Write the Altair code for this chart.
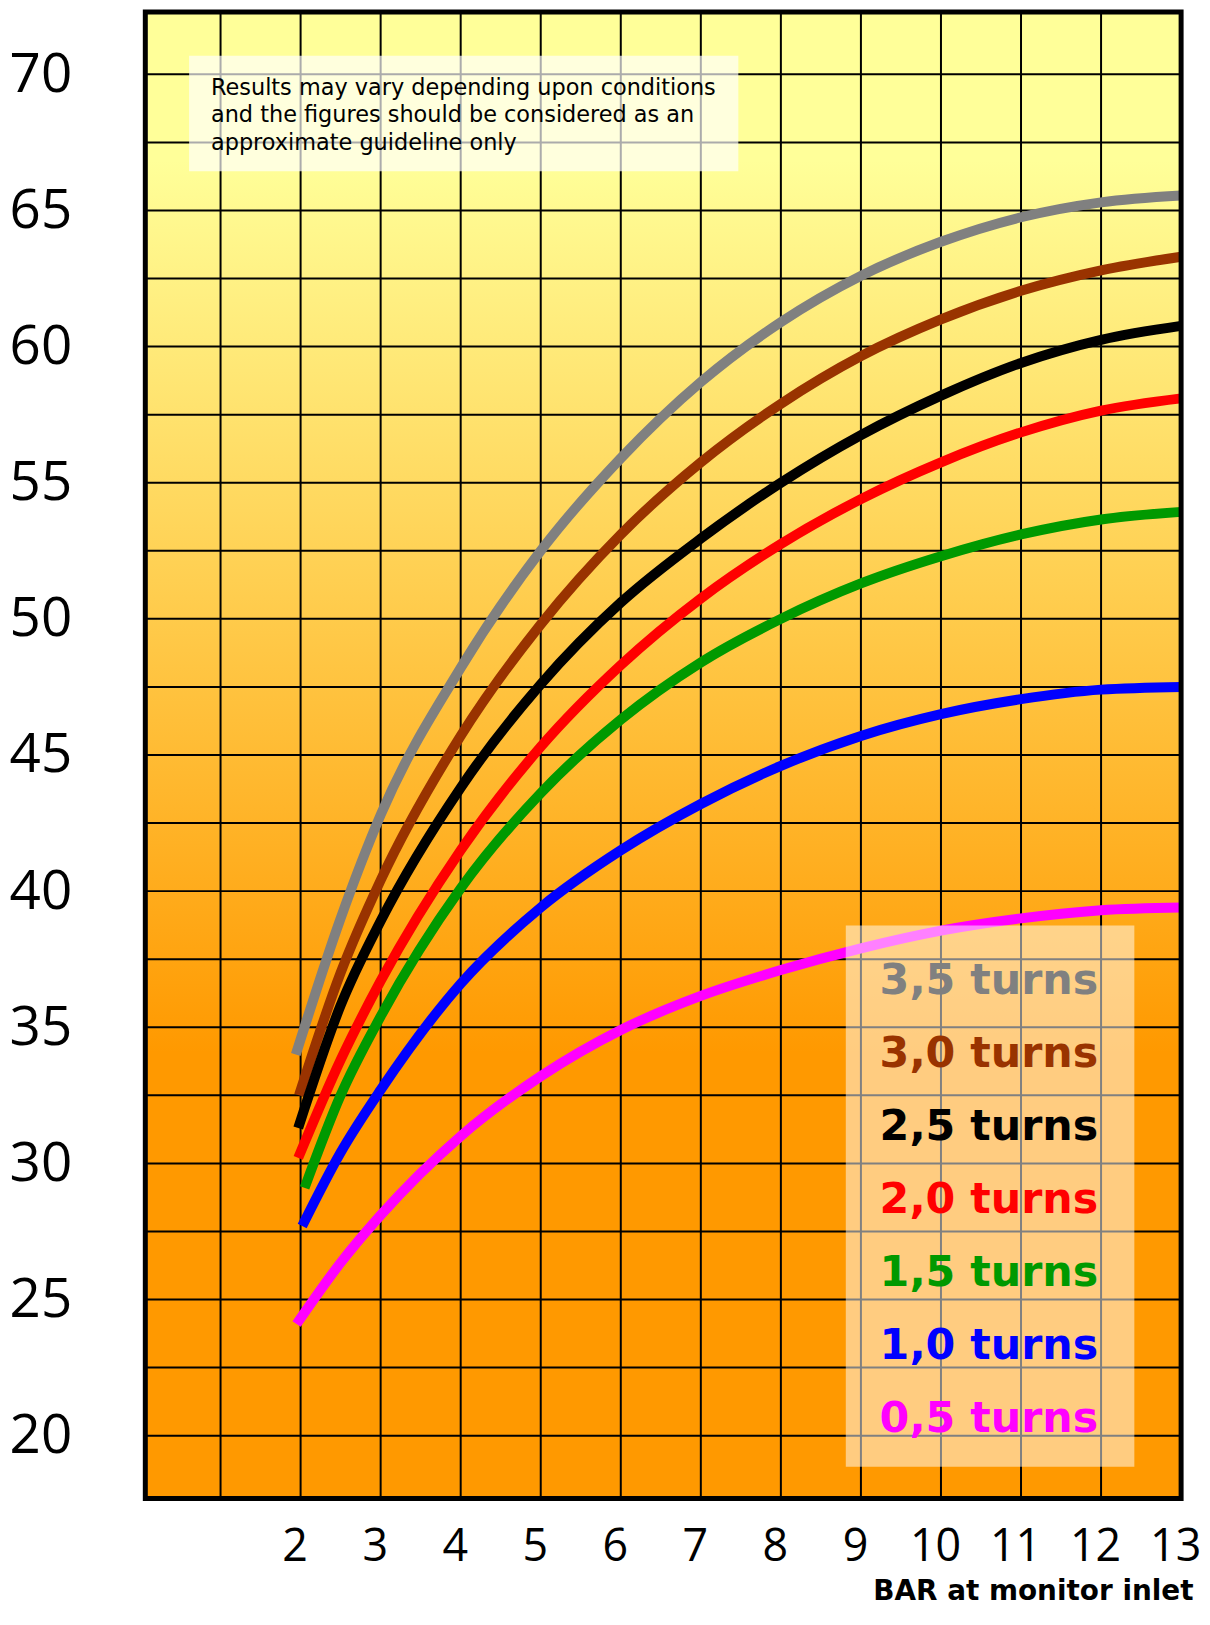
import altair as alt
import pandas as pd

# ---------------- data ----------------
series = ["3,5 turns", "3,0 turns", "2,5 turns", "2,0 turns", "1,5 turns", "1,0 turns", "0,5 turns"]
colors = ["#808080", "#993300", "#000000", "#ff0000", "#009900", "#0000ff", "#ff00ff"]

# first point of every curve (where the curve begins, close to 2 bar)
start_x = [1.94, 1.98, 1.97, 1.97, 2.05, 2.02, 1.95]
start_y = [34.0, 32.5, 31.3, 30.2, 29.1, 27.7, 24.1]

# values at the following pressures
x_points = [2.5, 3, 4, 5, 6, 7, 8, 9, 10, 11, 12, 13]
turns_35 = [39.0, 42.8, 48.2, 52.5, 55.9, 58.7, 60.9, 62.6, 63.85, 64.75, 65.3, 65.55]
turns_30 = [37.0, 40.4, 45.7, 49.8, 53.1, 55.75, 57.9, 59.65, 61.0, 62.05, 62.8, 63.3]
turns_25 = [35.8, 38.9, 43.8, 47.6, 50.6, 52.95, 55.0, 56.75, 58.2, 59.4, 60.25, 60.76]
turns_20 = [33.8, 36.7, 41.5, 45.3, 48.3, 50.75, 52.75, 54.4, 55.75, 56.85, 57.65, 58.1]
turns_15 = [32.5, 35.4, 40.1, 43.6, 46.3, 48.4, 50.0, 51.3, 52.3, 53.1, 53.65, 53.93]
turns_10 = [30.4, 32.7, 36.6, 39.4, 41.5, 43.2, 44.6, 45.7, 46.5, 47.05, 47.4, 47.5]
turns_05 = [26.35, 28.1, 31.0, 33.2, 34.9, 36.15, 37.1, 37.9, 38.55, 39.0, 39.3, 39.4]
all_values = [turns_35, turns_30, turns_25, turns_20, turns_15, turns_10, turns_05]

x_ticks = [2, 3, 4, 5, 6, 7, 8, 9, 10, 11, 12, 13]
y_ticks = [20, 25, 30, 35, 40, 45, 50, 55, 60, 65, 70]
grid_x = [1, 2, 3, 4, 5, 6, 7, 8, 9, 10, 11, 12]
grid_y = [20 + 2.5 * i for i in range(21)]

note = ("Results may vary depending upon conditions\n"
        "and the figures should be considered as an\n"
        "approximate guideline only")
x_title = "BAR at monitor inlet"

# ---------------- tables ----------------
rows = []
for s, sx, sy, vals in zip(series, start_x, start_y, all_values):
    rows.append({"series": s, "x": sx, "y": sy})
    for xv, yv in zip(x_points, vals):
        rows.append({"series": s, "x": xv, "y": yv})
curves = pd.DataFrame(rows)
legend_df = pd.DataFrame({"series": series, "i": list(range(len(series)))})
one = pd.DataFrame({"a": [0]})

# ---------------- layout ----------------
W, H = 1041, 1494
xs = alt.Scale(domain=[0.06, 13.0], nice=False, zero=False)
ys = alt.Scale(domain=[17.69, 72.29], nice=False, zero=False)
cs = alt.Scale(domain=series, range=colors)

x_axis = alt.Axis(values=x_ticks, title=x_title, labelFont="Open Sans", labelFontSize=45,
                  labelColor="black", labelPadding=62, labelBaseline="alphabetic",
                  labelOffset=-6, labelFlush=False, labelOverlap=False,
                  ticks=False, tickSize=0, domain=False, grid=False,
                  titleFont="DejaVu Sans", titleFontWeight="bold", titleFontSize=28,
                  titleColor="black", titleAlign="right", titleAnchor="end",
                  titleBaseline="alphabetic", titleX=W + 12, titleY=101)
y_axis = alt.Axis(values=y_ticks, title=None, labelFont="Open Sans", labelFontSize=55,
                  labelColor="black", labelPadding=74, labelBaseline="middle",
                  labelFlush=False, labelOverlap=False,
                  ticks=False, tickSize=0, domain=False, grid=False)

gradient = alt.LinearGradient(
    gradient="linear", x1=0, x2=0, y1=0, y2=1,
    stops=[alt.GradientStop(color="#ffff99", offset=0),
           alt.GradientStop(color="#ffff99", offset=0.1),
           alt.GradientStop(color="#ff9900", offset=0.7),
           alt.GradientStop(color="#ff9900", offset=1)])

bg = alt.Chart(one).mark_rect(fill=gradient).encode(
    x=alt.value(0), x2=alt.value(W), y=alt.value(0), y2=alt.value(H))

hgrid = alt.Chart(pd.DataFrame({"y": grid_y})).mark_rule(color="black", strokeWidth=2).encode(
    y=alt.Y("y:Q", scale=ys, axis=y_axis))
vgrid = alt.Chart(pd.DataFrame({"x": grid_x})).mark_rule(color="black", strokeWidth=2).encode(
    x=alt.X("x:Q", scale=xs, axis=x_axis))

lines = alt.Chart(curves).mark_line(strokeWidth=10, interpolate="monotone").encode(
    x=alt.X("x:Q", scale=xs, axis=x_axis),
    y=alt.Y("y:Q", scale=ys, axis=y_axis),
    color=alt.Color("series:N", scale=cs, legend=None),
    order=alt.Order("x:Q"))

legend_box = alt.Chart(one).mark_rect(fill="white", fillOpacity=0.5).encode(
    x=alt.value(704), x2=alt.value(994), y=alt.value(918), y2=alt.value(1462))

note_box = alt.Chart(one).mark_rect(fill="white", fillOpacity=0.67).encode(
    x=alt.value(44), x2=alt.value(596), y=alt.value(44), y2=alt.value(160))

note_text = alt.Chart(pd.DataFrame({"note": [note]})).mark_text(
    align="left", baseline="alphabetic", font="DejaVu Sans", fontSize=22.5,
    lineBreak="\n", lineHeight=28, color="black").encode(
    x=alt.value(66), y=alt.value(83), text="note:N")

legend_text = alt.Chart(legend_df).transform_calculate(
    ypx="986.5 + datum.i * 73.5").mark_text(
    align="left", baseline="alphabetic", font="DejaVu Sans", fontSize=43,
    fontWeight="bold").encode(
    x=alt.value(738),
    y=alt.Y("ypx:Q", scale=None),
    text="series:N",
    color=alt.Color("series:N", scale=cs, legend=None))

border = alt.Chart(one).mark_rect(fill="transparent", stroke="black", strokeWidth=5).encode(
    x=alt.value(0), x2=alt.value(W), y=alt.value(0), y2=alt.value(H))

chart = alt.layer(bg, hgrid, vgrid, lines, legend_box, note_box, note_text, legend_text, border).properties(
    width=W, height=H,
    autosize=alt.AutoSizeParams(type="none"),
    padding={"left": 138, "top": 0, "right": 21, "bottom": 108},
    background="white",
).configure_view(strokeWidth=0)

chart.save("out.html", embed_options={"renderer": "svg", "actions": False})
